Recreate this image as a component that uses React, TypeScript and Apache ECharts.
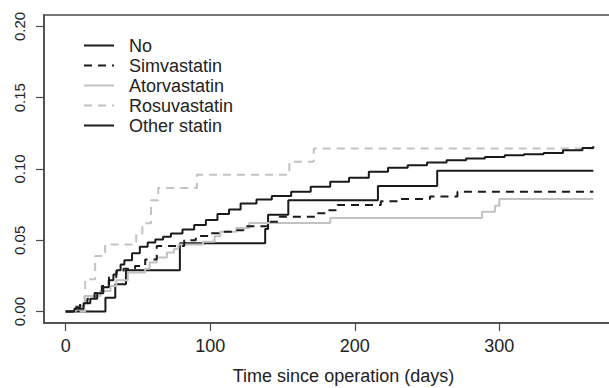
import React, { useEffect, useRef } from "react";
import * as echarts from "echarts";

const seriesNames = ["No", "Simvastatin", "Atorvastatin", "Rosuvastatin", "Other statin"];

const xTickValues = [0, 100, 200, 300];
const yTickValues = [0, 0.05, 0.1, 0.15, 0.2];

// [days, cumulative incidence]
const noStatin: [number, number][] = [
  [0, 0], [6, 0.002], [12.4, 0.0058], [17, 0.009], [21.8, 0.0128], [26, 0.017],
  [29.8, 0.022], [33, 0.026], [35.2, 0.029], [38, 0.033], [40.6, 0.036], [45.9, 0.041],
  [51.3, 0.0455], [56.7, 0.0485], [62, 0.0506], [67.4, 0.0525], [72.8, 0.0548],
  [80.8, 0.0576], [88.9, 0.0607], [97, 0.0642], [105, 0.0684], [113, 0.0716],
  [121, 0.0758], [132, 0.0786], [142.6, 0.081], [156, 0.084], [169.5, 0.0875],
  [183, 0.091], [196, 0.0938], [209.7, 0.098], [223, 0.1008], [236.6, 0.1027],
  [250, 0.1045], [263.5, 0.1062], [277, 0.1073], [290, 0.1085], [303.7, 0.1097],
  [317, 0.1104], [330.6, 0.1113], [344, 0.1132], [357.5, 0.1148], [365, 0.116],
];

const simvastatin: [number, number][] = [
  [0, 0], [5, 0.003], [10, 0.006], [15, 0.009], [20, 0.013], [25, 0.018], [30, 0.024],
  [35, 0.028], [40, 0.03], [48, 0.032], [55, 0.0366], [63, 0.046], [82, 0.05],
  [90, 0.053], [100, 0.055], [106, 0.056], [116, 0.057], [123, 0.0598], [141, 0.063],
  [148, 0.0665], [174, 0.069], [181, 0.071], [188, 0.0748], [218, 0.0773],
  [231, 0.079], [252, 0.0808], [271, 0.084], [365, 0.084],
];

const atorvastatin: [number, number][] = [
  [0, 0], [7, 0.004], [13, 0.011], [24, 0.0145], [31, 0.018], [35, 0.022], [43, 0.0275],
  [55, 0.03], [58, 0.0345], [63, 0.038], [70, 0.0415], [75, 0.044], [78, 0.047],
  [95, 0.049], [103, 0.0529], [107, 0.056], [118, 0.0587], [127, 0.0622], [183, 0.0657],
  [288, 0.07], [297, 0.0743], [300, 0.079], [365, 0.079],
];

const rosuvastatin: [number, number][] = [
  [0, 0], [13.5, 0.0227], [20.4, 0.039], [27.3, 0.047], [48.8, 0.0545], [53, 0.062],
  [59, 0.078], [64, 0.0866], [90.7, 0.0959], [154.7, 0.105], [171.6, 0.1143], [365, 0.1143],
];

const otherStatin: [number, number][] = [
  [0, 0], [27.5, 0.0097], [34.3, 0.0192], [41.7, 0.029], [79, 0.048], [138, 0.058],
  [140, 0.068], [154, 0.078], [216, 0.088], [257, 0.0987], [365, 0.0987],
];

const seriesData = [noStatin, simvastatin, atorvastatin, rosuvastatin, otherStatin];
const seriesColors = ["#1a1a1a", "#1a1a1a", "#c2c2c2", "#c2c2c2", "#1a1a1a"];
const seriesDash: ("solid" | number[])[] = ["solid", [8, 6], "solid", [8, 6], "solid"];

const FONT = "'Liberation Sans', Arial, Helvetica, sans-serif";

export default function App() {
  const ref = useRef<HTMLDivElement>(null);
  useEffect(() => {
    document.body.style.margin = "0";
    const chart = echarts.init(ref.current!, undefined, { renderer: "svg" });
    chart.setOption({
      animation: false,
      backgroundColor: "#ffffff",
      grid: {
        left: 44,
        top: 15,
        width: 571,
        bottom: 65,
        show: true,
        borderColor: "#4a4a4a",
        borderWidth: 1.5,
        containLabel: false,
        outerBoundsMode: "none",
      },
      legend: {
        orient: "vertical",
        left: 83,
        top: 35.5,
        padding: 0,
        itemWidth: 30,
        itemHeight: 20,
        itemGap: 0,
        data: seriesNames,
        itemStyle: { color: "rgba(0,0,0,0)", borderWidth: 0, opacity: 0 },
        textStyle: {
          fontFamily: FONT,
          fontSize: 18,
          color: "#222",
          lineHeight: 20,
          padding: [0, 0, 0, 10],
        },
      },
      xAxis: {
        type: "value",
        min: -15,
        max: 380,
        name: "Time since operation (days)",
        nameLocation: "middle",
        nameGap: 44,
        nameTextStyle: {
          fontFamily: FONT,
          fontSize: 18,
          color: "#222",
          padding: [0, 0, 0, 28],
        },
        axisLine: { show: true, onZero: false, lineStyle: { color: "#4a4a4a", width: 1.5 } },
        axisTick: {
          show: true,
          length: 8,
          customValues: xTickValues,
          lineStyle: { color: "#4a4a4a", width: 1.2 },
        },
        axisLabel: {
          customValues: xTickValues,
          fontFamily: FONT,
          fontSize: 18,
          color: "#222",
          margin: 14,
        },
        splitLine: { show: false },
      },
      yAxis: {
        type: "value",
        min: -0.008,
        max: 0.208,
        axisLine: { show: true, onZero: false, lineStyle: { color: "#4a4a4a", width: 1.5 } },
        axisTick: {
          show: true,
          length: 8,
          customValues: yTickValues,
          lineStyle: { color: "#4a4a4a", width: 1.2 },
        },
        axisLabel: {
          customValues: yTickValues,
          rotate: 90,
          fontFamily: FONT,
          fontSize: 15,
          color: "#222",
          margin: 17,
          formatter: (v: number) => v.toFixed(2),
        },
        splitLine: { show: false },
      },
      series: seriesNames.map((name, i) => ({
        name,
        type: "line",
        step: "end",
        data: seriesData[i],
        symbol: "none",
        showSymbol: false,
        color: seriesColors[i],
        lineStyle: { color: seriesColors[i], width: 2, type: seriesDash[i] },
        z: i === 0 ? 10 : 5 - i,
      })),
    });
    return () => chart.dispose();
  }, []);
  return (
    <div
      ref={ref}
      style={{ position: "fixed", left: 0, top: 0, width: 609, height: 388, background: "#fff" }}
    />
  );
}
